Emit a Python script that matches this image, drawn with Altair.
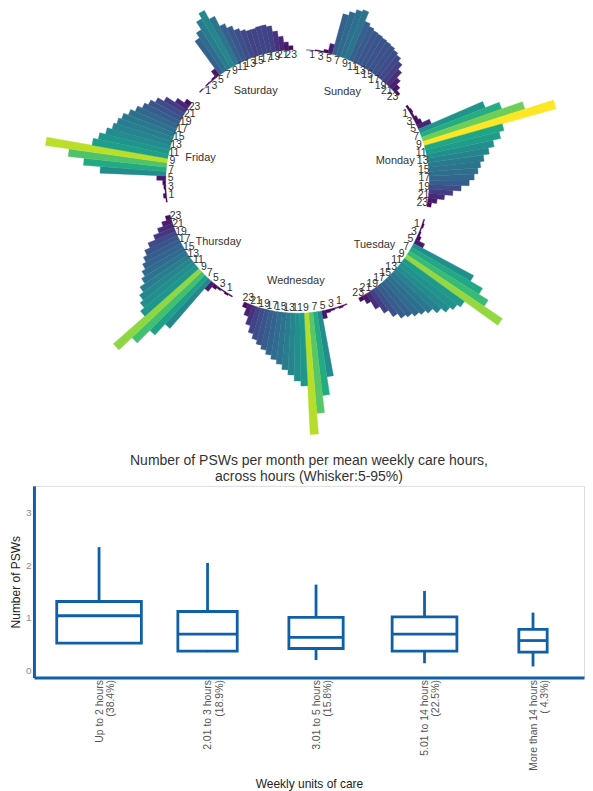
import altair as alt
import numpy as np
import pandas as pd

# ---------------- radial chart data ----------------
days = ["Sunday", "Monday", "Tuesday", "Wednesday", "Thursday", "Friday", "Saturday"]
hours = list(range(24))
sunday = [0, 0, 1, 1, 3, 10, 42, 46, 50, 52, 42, 39, 37, 36, 35, 34, 33, 31, 29, 25, 19, 12, 7, 3]
monday = [2, 3, 2, 4, 6, 14, 70, 85, 107, 137, 81, 76, 68, 62, 56, 52, 49, 45, 40, 32, 24, 16, 9, 4]
tuesday = [1, 2, 1, 2, 4, 10, 68, 82, 93, 115, 74, 70, 66, 60, 54, 50, 47, 43, 40, 34, 26, 18, 9, 4]
wednesday = [1, 2, 1, 2, 3, 8, 66, 84, 101, 122, 73, 68, 62, 57, 52, 48, 44, 40, 36, 32, 27, 20, 12, 5]
thursday = [1, 2, 1, 2, 4, 10, 63, 78, 96, 114, 72, 67, 63, 58, 52, 48, 44, 40, 36, 30, 22, 16, 10, 5]
friday = [1, 3, 1, 2, 3, 9, 66, 83, 99, 123, 77, 72, 66, 61, 58, 55, 50, 45, 40, 36, 31, 24, 14, 6]
saturday = [1, 0, 1, 1, 2, 8, 42, 48, 57, 63, 53, 42, 37, 32, 29, 27, 27, 28, 28, 26, 20, 14, 8, 4]
day_values = [sunday, monday, tuesday, wednesday, thursday, friday, saturday]

SLOTS_PER_DAY = 27   # 24 hours + 3 empty slots between days
LEAD = 2
TOTAL = SLOTS_PER_DAY * len(days)
VMAX = 137

rows = []
for d, (day, vals) in enumerate(zip(days, day_values)):
    for h, v in zip(hours, vals):
        s = d * SLOTS_PER_DAY + LEAD + h
        rows.append(dict(day=day, hour=h, lab=str(h), value=v, s0=s, s1=s + 1, mid=s + 0.5))
bars = pd.DataFrame(rows)
hour_labels = bars[bars["hour"] % 2 == 1]
day_df = pd.DataFrame({"day": days,
                       "mid": [d * SLOTS_PER_DAY + LEAD + 12 for d in range(len(days))]})

theta_scale = alt.Scale(domain=[0, TOTAL], range=[0, 2 * np.pi])
val_color = alt.Scale(scheme="viridis", domain=[0, VMAX])

arcs = alt.Chart(bars).mark_arc(strokeWidth=0.4).encode(
    theta=alt.Theta("s0:Q", scale=theta_scale, stack=None),
    theta2="s1:Q",
    radius=alt.Radius("value:Q", scale=alt.Scale(type="linear", domain=[0, VMAX], range=[132, 269], zero=False)),
    radius2=alt.value(132),
    color=alt.Color("value:Q", scale=val_color, legend=None),
    stroke=alt.Stroke("value:Q", scale=val_color, legend=None),
)

hour_text = alt.Chart(hour_labels).mark_text(fontSize=10.5, color="#333333").encode(
    theta=alt.Theta("mid:Q", scale=theta_scale, stack=None),
    radius=alt.value(127),
    text="lab:N",
)

day_text = alt.Chart(day_df).mark_text(fontSize=11, color="#333333").encode(
    theta=alt.Theta("mid:Q", scale=theta_scale, stack=None),
    radius=alt.value(100),
    text="day:N",
)

top = alt.layer(arcs, hour_text, day_text).properties(width=528, height=340)

# ---------------- box plot data ----------------
categories = ["Up to 2 hours", "2.01 to 3 hours", "3.01 to 5 hours", "5.01 to 14 hours", "More than 14 hours"]
pct = [38.4, 18.9, 15.8, 22.5, 4.3]
whisk_lo = [0.52, 0.35, 0.20, 0.14, 0.08]
q1 = [0.52, 0.37, 0.42, 0.37, 0.35]
median = [1.04, 0.69, 0.63, 0.69, 0.57]
q3 = [1.31, 1.12, 1.01, 1.02, 0.78]
whisk_hi = [2.34, 2.04, 1.63, 1.51, 1.10]

pos = list(range(1, len(categories) + 1))
half = [0.39 * np.sqrt(p / max(pct)) for p in pct]  # varwidth boxes
box = pd.DataFrame({
    "cat": categories, "pos": pos, "lo": whisk_lo, "q1": q1, "med": median,
    "q3": q3, "hi": whisk_hi,
    "x_lo": [p - h for p, h in zip(pos, half)],
    "x_hi": [p + h for p, h in zip(pos, half)],
})

label_arr = "[" + ",".join(
    "['%s','(%4.1f%%)']" % (c, p) for c, p in zip(categories, pct)
) + "]"
BLUE = "#1060a8"

x_axis = alt.Axis(values=pos, labelExpr=label_arr + "[datum.value - 1]", labelAngle=-90,
                  labelFontSize=10.5, labelColor="#555555", labelPadding=2, labelLineHeight=11.5,
                  ticks=False, grid=False, domainColor=BLUE, domainWidth=3,
                  titleFontSize=12, titleFontWeight="normal", titleColor="#222222", titlePadding=8)
y_axis = alt.Axis(values=[0, 1, 2, 3], labelFontSize=10, labelColor="#8c8c8c", labelPadding=3,
                  ticks=False, grid=False, domainColor=BLUE, domainWidth=3,
                  titleFontSize=12, titleFontWeight="normal", titleColor="#222222", titlePadding=3)
x_scale = alt.Scale(domain=[0.4, 5.47], nice=False, zero=False)
y_scale = alt.Scale(domain=[-0.13, 3.5], nice=False, zero=False)
XT = "Weekly units of care"
YT = "Number of PSWs"

whiskers = alt.Chart(box).mark_rule(color=BLUE, strokeWidth=2.8).encode(
    x=alt.X("pos:Q", scale=x_scale, axis=x_axis, title=XT),
    y=alt.Y("lo:Q", scale=y_scale, axis=y_axis, title=YT),
    y2="hi:Q",
)
rects = alt.Chart(box).mark_rect(fill="white", stroke=BLUE, strokeWidth=2.8).encode(
    x=alt.X("x_lo:Q", scale=x_scale, axis=x_axis, title=XT),
    x2="x_hi:Q",
    y=alt.Y("q1:Q", scale=y_scale, axis=y_axis, title=YT),
    y2="q3:Q",
)
meds = alt.Chart(box).mark_rule(color=BLUE, strokeWidth=2.8).encode(
    x=alt.X("x_lo:Q", scale=x_scale, axis=x_axis, title=XT),
    x2="x_hi:Q",
    y=alt.Y("med:Q", scale=y_scale, axis=y_axis, title=YT),
)

bottom = alt.layer(whiskers, rects, meds).properties(
    width=551, height=192,
    title=alt.TitleParams(
        ["Number of PSWs per month per mean weekly care hours,", "across hours (Whisker:5-95%)"],
        fontSize=14, fontWeight="normal", color="#333333", anchor="middle", offset=2, lineHeight=16,
    ),
)

chart = alt.vconcat(top, bottom, spacing=17).properties(padding=0).configure_view(
    stroke=None
).configure(font="Liberation Sans")

chart.save("out.html", embed_options={"renderer": "svg", "actions": False})
